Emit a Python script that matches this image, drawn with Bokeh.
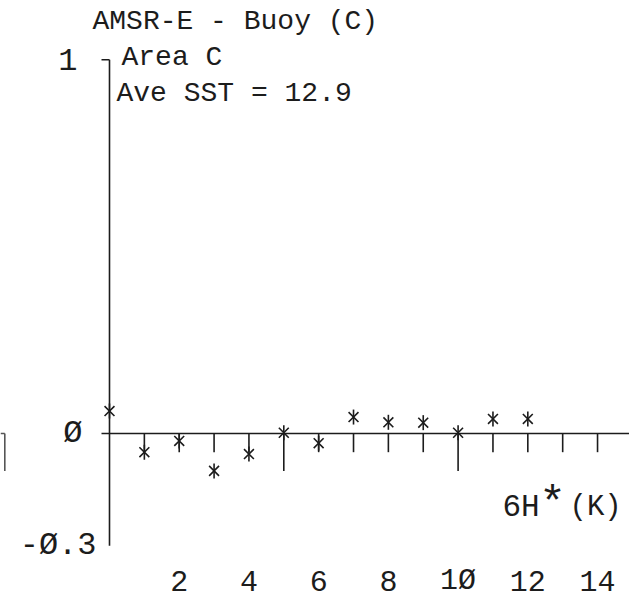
import numpy as np
from bokeh.plotting import figure
from bokeh.models import Range1d
from bokeh.core.properties import value
from bokeh.embed import file_html
from bokeh.resources import INLINE

# ---- data ----
lags = [0, 1, 2, 3, 4, 5, 6, 7, 8, 9, 10, 11, 12]
diff = [0.06, -0.05, -0.02, -0.10, -0.055, 0.002, -0.026, 0.044, 0.03, 0.029, 0.002, 0.039, 0.039]
x_ticks = list(range(1, 16))
x_label_vals = [2, 4, 6, 8, 10, 12, 14]
x_label_text = ["2", "4", "6", "8", "1Ø", "12", "14"]
y_label_vals = [1, 0, -0.3]
y_label_text = ["1", "Ø", "-Ø.3"]
title_text = "AMSR-E - Buoy (C)"
area_text = "Area C"
ave_text = "Ave SST = 12.9"
xlab_main, xlab_sup, xlab_unit = "6H", "*", "(K)"

# ---- layout ----
W, H = 629, 598
OX, OY = 109, 433          # data origin in canvas pixels
SX, SY = 34.86, 373.8      # pixels per data unit
FONT = value("Liberation Mono")
INK = "#1c1c1c"

p = figure(width=W, height=H, output_backend="svg", toolbar_location=None,
           x_range=Range1d(-OX / SX, (W - OX) / SX),
           y_range=Range1d(-(H - OY) / SY, OY / SY),
           x_axis_type=None, y_axis_type=None, min_border=0,
           outline_line_color=None, background_fill_color="white",
           border_fill_color="white")

lw = 1.6
# vertical axis
p.segment(x0=[0], y0=[min(y_label_vals)], x1=[0], y1=[max(y_label_vals)],
          line_color=INK, line_width=lw)
p.segment(x0=[-8 / SX], y0=[max(y_label_vals)], x1=[0], y1=[max(y_label_vals)],
          line_color=INK, line_width=lw)
# horizontal axis at zero
p.segment(x0=[-8 / SX], y0=[0], x1=[max(x_ticks) + 0.5], y1=[0],
          line_color=INK, line_width=lw)
tick_len = [0.1 if t % 5 == 0 else 0.05 for t in x_ticks]
p.segment(x0=x_ticks, y0=[0] * len(x_ticks), x1=x_ticks, y1=[-l for l in tick_len],
          line_color=INK, line_width=lw)

# fragment of the neighbouring panel's axis at the left edge
edge = -OX / SX
p.segment(x0=[edge, edge + 4.3 / SX], y0=[0, 0], x1=[edge + 4.3 / SX, edge + 4.3 / SX],
          y1=[0, -0.1], line_color="#555555", line_width=lw)

# asterisk markers (X plus vertical bar)
p.scatter(lags, diff, marker="x", size=14, line_color=INK, line_width=lw)
p.scatter(lags, diff, marker="dash", angle=np.pi / 2, size=15, line_color=INK, line_width=lw)

# tick labels
p.text(x=x_label_vals, y=[-147 / SY] * len(x_label_vals), text=x_label_text,
       text_font=FONT, text_font_size="30px", text_color=INK,
       text_align="center", text_baseline="middle")
ylab_x = [{1: -32, 2: -27}.get(len(t) + (t == "Ø"), -13) / SX for t in y_label_text]
p.text(x=ylab_x, y=y_label_vals, text=y_label_text,
       text_font=FONT, text_font_size="32px", text_color=INK,
       text_align="right", text_baseline="middle")

# annotations
p.text(x=[-17 / SX], y=[412 / SY], text=[title_text], text_font=FONT,
       text_font_size="28px", text_color=INK, text_baseline="middle")
p.text(x=[12 / SX], y=[376.5 / SY], text=[area_text], text_font=FONT,
       text_font_size="28px", text_color=INK, text_baseline="middle")
p.text(x=[7 / SX], y=[340 / SY], text=[ave_text], text_font=FONT,
       text_font_size="28px", text_color=INK, text_baseline="middle")

# x axis label 6H*(K)
p.text(x=[393 / SX], y=[-74 / SY], text=[xlab_main], text_font=FONT,
       text_font_size="31px", text_color=INK, text_baseline="middle")
p.text(x=[443 / SX], y=[-71 / SY], text=[xlab_sup], text_font=FONT,
       text_font_size="45px", text_color=INK, text_align="center",
       text_baseline="middle")
p.text(x=[460 / SX], y=[-74 / SY], text=[xlab_unit], text_font=FONT,
       text_font_size="29px", text_color=INK, text_baseline="middle")

open("out.html", "w").write(file_html(p, INLINE))
